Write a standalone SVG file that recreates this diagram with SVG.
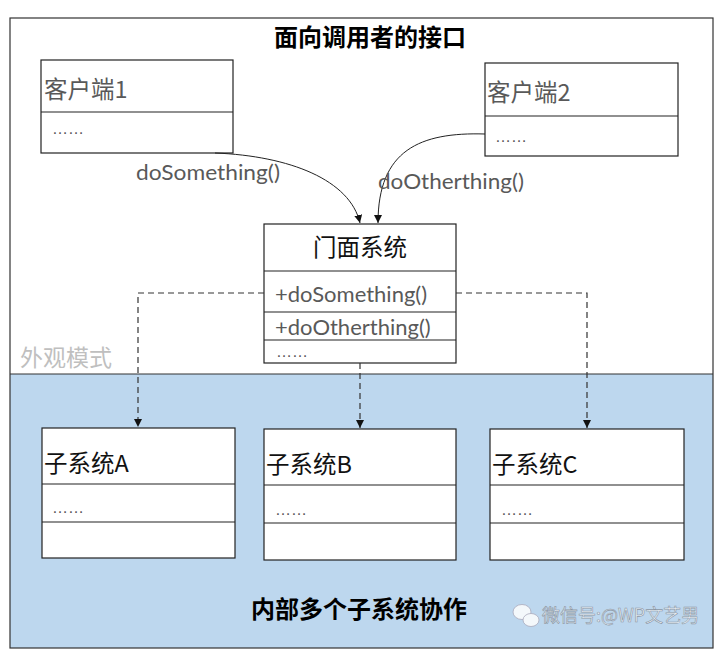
<svg xmlns="http://www.w3.org/2000/svg" width="720" height="650" viewBox="0 0 720 650">
<defs>
<style>
.box{fill:#fff;stroke:#222;stroke-width:1.2}
.div{stroke:#222;stroke-width:1.2}
.cn{font-family:"Noto Sans CJK SC",sans-serif;font-size:23.5px;fill:#111}
.cng{font-family:"Noto Sans CJK SC",sans-serif;font-size:23.5px;fill:#595959}
.lat{font-family:Lato,"Noto Sans",sans-serif;font-size:22px;fill:#595959}
.dots{font-family:"Liberation Sans",sans-serif;font-size:16px;fill:#595959}
.title{font-family:"Noto Sans CJK SC",sans-serif;font-size:24px;font-weight:bold;fill:#000;text-anchor:middle}
.conn{fill:none;stroke:#222;stroke-width:1}
.dash{fill:none;stroke:#333;stroke-width:1.2;stroke-dasharray:6,4}
</style>
<marker id="arr" viewBox="0 0 10 10" refX="10" refY="5" markerWidth="8" markerHeight="8" orient="auto" markerUnits="userSpaceOnUse">
<path d="M0,0 L10,5 L0,10 z" fill="#111"/>
</marker>
</defs>
<rect x="0" y="0" width="720" height="650" fill="#fff"/>
<g id="frame">
<rect x="10" y="374" width="703" height="274" fill="#bdd7ee"/>
<rect x="10" y="18" width="703" height="630" fill="none" stroke="#333" stroke-width="1.2"/>
<line x1="10" y1="374" x2="713" y2="374" stroke="#333" stroke-width="1.2"/>
<text class="title" x="370" y="46">面向调用者的接口</text>
<text x="20" y="366" font-family="'Noto Sans CJK SC',sans-serif" font-size="23" fill="#bfbfbf">外观模式</text>
<text class="title" x="359" y="618">内部多个子系统协作</text>
</g>
<g id="client1">
<rect class="box" x="41" y="60" width="192" height="93"/>
<line class="div" x1="41" y1="112" x2="233" y2="112"/>
<text class="cng" x="44" y="98">客户端1</text>
<text class="dots" x="52" y="134">……</text>
</g>
<g id="client2">
<rect class="box" x="485" y="63" width="193" height="93"/>
<line class="div" x1="485" y1="116" x2="678" y2="116"/>
<text class="cng" x="487" y="101">客户端2</text>
<text class="dots" x="495" y="142">……</text>
</g>
<g id="facade">
<rect class="box" x="264" y="224" width="192" height="139"/>
<line class="div" x1="264" y1="271" x2="456" y2="271"/>
<line class="div" x1="264" y1="312" x2="456" y2="312"/>
<line class="div" x1="264" y1="340" x2="456" y2="340"/>
<text class="cn" x="360" y="256" text-anchor="middle">门面系统</text>
<text class="lat" x="275" y="302">+doSomething()</text>
<text class="lat" x="275" y="335">+doOtherthing()</text>
<text class="dots" x="276" y="357">……</text>
</g>
<g id="subA">
<rect class="box" x="42" y="428" width="193" height="130"/>
<line class="div" x1="42" y1="484" x2="235" y2="484"/>
<line class="div" x1="42" y1="522" x2="235" y2="522"/>
<text class="cn" x="44" y="472">子系统A</text>
<text class="dots" x="52" y="513">……</text>
</g>
<g id="subB">
<rect class="box" x="264" y="429" width="192" height="131"/>
<line class="div" x1="264" y1="485" x2="456" y2="485"/>
<line class="div" x1="264" y1="523" x2="456" y2="523"/>
<text class="cn" x="266" y="473">子系统B</text>
<text class="dots" x="275" y="515">……</text>
</g>
<g id="subC">
<rect class="box" x="490" y="429" width="194" height="131"/>
<line class="div" x1="490" y1="485" x2="684" y2="485"/>
<line class="div" x1="490" y1="523" x2="684" y2="523"/>
<text class="cn" x="492" y="473">子系统C</text>
<text class="dots" x="501" y="515">……</text>
</g>
<g id="connectors">
<path class="conn" d="M215,153 C290,156 350,180 360,223" marker-end="url(#arr)"/>
<path class="conn" d="M485,134 C420,132 378,150 378,223" marker-end="url(#arr)"/>
<path class="dash" d="M264,293 H138 V427" marker-end="url(#arr)"/>
<path class="dash" d="M360,363 V428" marker-end="url(#arr)"/>
<path class="dash" d="M456,293 H587 V428" marker-end="url(#arr)"/>
<text class="lat" x="136" y="180" font-size="21" textLength="144" lengthAdjust="spacingAndGlyphs">doSomething()</text>
<text class="lat" x="378" y="189" font-size="21" textLength="146" lengthAdjust="spacingAndGlyphs">doOtherthing()</text>
</g>
<g id="watermark">
<ellipse cx="522" cy="612" rx="9" ry="7.5" fill="#f4f8fb" stroke="#aab" stroke-width="0.8"/>
<ellipse cx="531" cy="620" rx="8" ry="6.5" fill="#f4f8fb" stroke="#aab" stroke-width="0.8"/>
<text x="542" y="622" font-family="'Noto Sans CJK SC',sans-serif" font-size="18" fill="#e8eef4" stroke="#8a96a4" stroke-width="0.6">微信号:@WP文艺男</text>
</g>
</svg>
